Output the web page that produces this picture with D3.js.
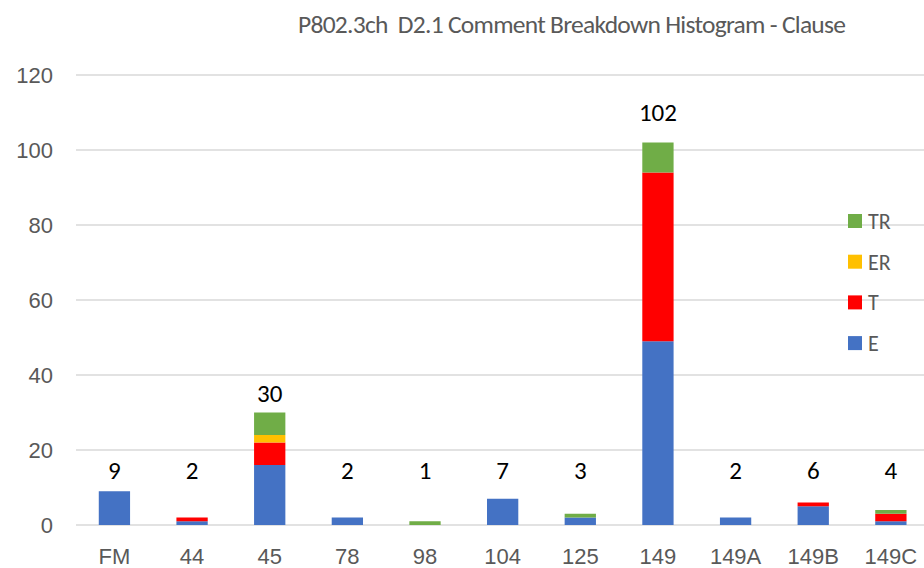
<!DOCTYPE html>
<html><head><meta charset="utf-8">
<script src="https://cdn.jsdelivr.net/npm/d3@7"></script>
<style>
html,body{margin:0;padding:0;background:#fff;}
svg{display:block;font-family:Carlito,Calibri,Lato,sans-serif;}
</style></head>
<body><svg id="chart" width="924" height="568"></svg>
<script>
const categories = ["FM","44","45","78","98","104","125","149","149A","149B","149C"];
const seriesNames = ["E","T","ER","TR"];
const E  = [9,1,16,2,0,7,2,49,2,5,1];
const T  = [0,1,6,0,0,0,0,45,0,1,2];
const ER = [0,0,2,0,0,0,0,0,0,0,0];
const TR = [0,0,6,0,1,0,1,8,0,0,1];
const colors = {E:"#4472C4",T:"#FF0000",ER:"#FFC000",TR:"#70AD47"};
const yTicks = [0,20,40,60,80,100,120];
const title = "P802.3ch  D2.1 Comment Breakdown Histogram - Clause";

const rows = categories.map((c,i)=>({cat:c,E:E[i],T:T[i],ER:ER[i],TR:TR[i]}));
rows.forEach(r=>r.total=r.E+r.T+r.ER+r.TR);

const svg = d3.select("#chart");
const x = d3.scaleBand().domain(categories).range([75.6,929.7]).paddingInner(0.597).paddingOuter(0.2985);
const y = d3.scaleLinear().domain([0,120]).range([525,75]);

// gridlines
svg.append("g").selectAll("line").data(yTicks).join("line")
  .attr("x1",76).attr("x2",924)
  .attr("y1",d=>y(d)).attr("y2",d=>y(d))
  .attr("stroke","#d9d9d9").attr("stroke-width",1.5);

// y axis labels
const yAxis = d3.axisLeft(y).tickValues(yTicks).tickSize(0).tickPadding(0);
const ya = svg.append("g").attr("transform","translate(53,0)").call(yAxis);
ya.select(".domain").remove();
ya.selectAll("text").attr("fill","#595959").style("font-size","22px").attr("dy","0.36em");

// x axis labels
const xAxis = d3.axisBottom(x).tickSize(0).tickPadding(0);
const xa = svg.append("g").attr("transform","translate(0,548)").call(xAxis);
xa.select(".domain").remove();
xa.selectAll("text").attr("fill","#595959").style("font-size","22px").attr("dy","0.72em");

// stacked bars
const stack = d3.stack().keys(seriesNames)(rows);
svg.append("g").selectAll("g").data(stack).join("g")
  .attr("fill",d=>colors[d.key])
  .selectAll("rect").data(d=>d).join("rect")
  .attr("x",d=>x(d.data.cat)).attr("width",x.bandwidth())
  .attr("y",d=>y(d[1])).attr("height",d=>y(d[0])-y(d[1]));

// total labels
svg.append("g").selectAll("text").data(rows).join("text")
  .attr("x",d=>x(d.cat)+x.bandwidth()/2)
  .attr("y",d=>y(Math.max(12.3,d.total*1.04+1.7)))
  .attr("text-anchor","middle").attr("fill","#000")
  .style("font-size","25px").text(d=>d.total);

// legend
const legendOrder = ["TR","ER","T","E"];
const lg = svg.append("g").selectAll("g").data(legendOrder).join("g")
  .attr("transform",(d,i)=>`translate(848,${214+i*40.7})`);
lg.append("rect").attr("width",14).attr("height",14).attr("fill",d=>colors[d]);
lg.append("text").attr("x",20).attr("y",7).attr("dy","0.36em")
  .attr("fill","#595959").style("font-size","22px").text(d=>d);

// title
svg.append("text").attr("x",572).attr("y",33).attr("text-anchor","middle")
  .attr("fill","#595959").style("font-size","25.5px").style("white-space","pre")
  .attr("xml:space","preserve").attr("textLength",548).attr("lengthAdjust","spacing")
  .text(title);
</script></body></html>
